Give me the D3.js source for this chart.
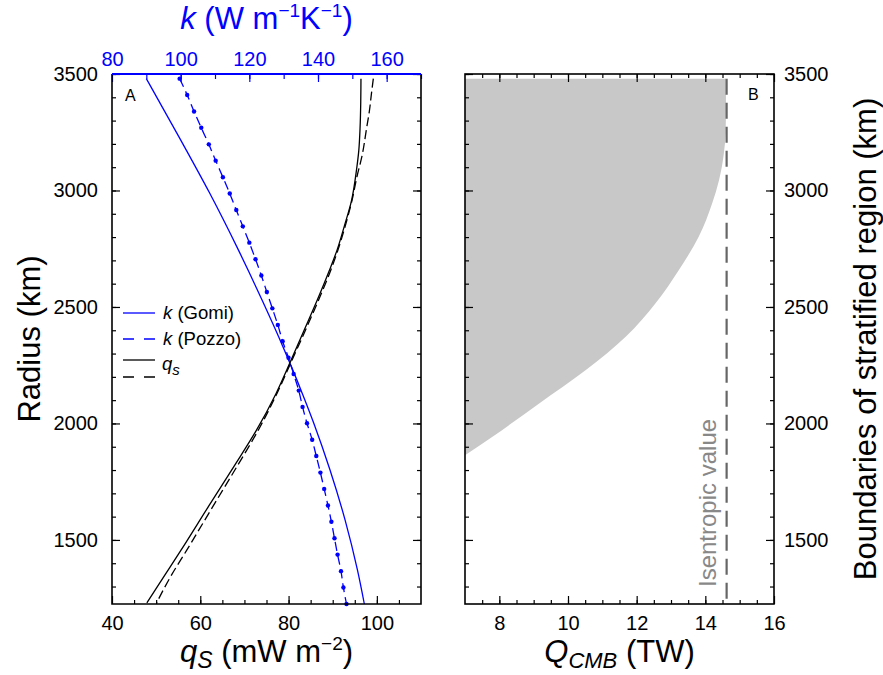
<!DOCTYPE html>
<html>
<head>
<meta charset="utf-8">
<script src="https://cdn.jsdelivr.net/npm/d3@7"></script>
<style>
  body { margin: 0; background: #fff; }
  svg { font-family: "Liberation Sans", Arial, Helvetica, sans-serif; }
</style>
</head>
<body>
<div id="container"></div>
<script>
// k (Gomi) : conductivité, W m-1 K-1
const gomiRadius = [3480, 3225, 2990, 2745, 2530, 2370, 2260, 2115, 2000, 1800, 1585, 1370, 1225];
const gomiK = [90.0, 99.7, 108.4, 116.8, 123.7, 128.6, 131.8, 135.8, 138.8, 143.5, 147.9, 151.5, 153.5];

// k (Pozzo) : une valeur par point marqué
const pozzoRadius = [3480, 3410, 3339, 3269, 3198, 3128, 3057, 2987, 2916, 2846, 2776, 2705, 2635,
  2564, 2494, 2423, 2353, 2282, 2212, 2141, 2071, 2001, 1930, 1860, 1789, 1719, 1648, 1578,
  1507, 1437, 1366, 1296, 1225];
const pozzoK = [99.7, 101.9, 103.9, 106.0, 108.2, 110.2, 112.3, 114.3, 116.2, 118.1, 120.0, 121.8, 123.5,
  125.1, 126.7, 128.3, 129.7, 131.4, 132.9, 134.4, 135.5, 136.8, 138.3, 139.5, 140.7, 141.8, 142.9, 143.9,
  144.8, 145.7, 146.7, 147.4, 148.3];

// q_s, mW m-2 (trait plein et tirets)
const qsRadius = [3480, 3380, 3270, 3170, 3090, 2960, 2845, 2745, 2660, 2530, 2395, 2260, 2130, 1970, 1815, 1645, 1455, 1350, 1230];
const qsSolid = [96.4, 96.35, 96.2, 95.9, 95.4, 94.3, 92.6, 91.0, 89.3, 86.5, 83.4, 80.3, 77.2, 72.7, 67.6, 61.9, 55.6, 52.0, 47.9];
const qsDashRadius = [3480, 3420, 3340, 3270, 3145, 3060, 2960, 2845, 2745, 2660, 2530, 2395, 2260, 2130, 1970, 1815, 1645, 1455, 1350, 1230];
const qsDashed = [99.2, 98.8, 98.3, 97.7, 96.6, 95.5, 94.4, 92.8, 91.2, 89.6, 86.8, 83.7, 80.5, 77.4, 73.1, 68.3, 62.9, 56.9, 53.5, 50.1];

// Panneau B : limite de la région stratifiée
const boundaryRadius = [1864, 1943, 2086, 2229, 2372, 2516, 2659, 2802, 2945, 3045, 3160, 3247, 3350, 3480];
const boundaryQ = [7.0, 7.8, 9.16, 10.52, 11.68, 12.55, 13.23, 13.81, 14.20, 14.40, 14.54, 14.59, 14.6, 14.6];
const isentropicQ = 14.62;
const cmbRadius = 3480;

const radiusTicks = [1500, 2000, 2500, 3000, 3500];
const qsTicks = [40, 60, 80, 100];
const kTicks = [80, 100, 120, 140, 160];
const qcmbTicks = [8, 10, 12, 14, 16];

const width = 883;
const height = 675;
const yTop = 74, yBottom = 604;
const aLeft = 112, aRight = 421;
const bLeft = 465, bRight = 774;
const blue = "#0000ff";

const svg = d3.select("#container").append("svg")
  .attr("width", width)
  .attr("height", height);

const y = d3.scaleLinear().domain([1225, 3500]).range([yBottom, yTop]);
const xq = d3.scaleLinear().domain([40, 110]).range([aLeft, aRight]);
const xk = d3.scaleLinear().domain([80, 170]).range([aLeft, aRight]);
const xQ = d3.scaleLinear().domain([7, 16]).range([bLeft, bRight]);

const minorR = d3.range(1300, 3501, 100);

function styleAxis(g, color) {
  g.select(".domain").remove();
  g.attr("font-size", 20).attr("font-family", null);
  g.selectAll(".tick line").attr("stroke", color).attr("stroke-width", 1.2);
  g.selectAll(".tick text").attr("fill", color);
}

function addAxis(axis, tx, ty, color) {
  const g = svg.append("g").attr("transform", `translate(${tx},${ty})`).call(axis);
  styleAxis(g, color || "#000");
  return g;
}

// ---- Panneau B : zone grisée
const area = d3.area()
  .x0(() => xQ(7))
  .x1((d, i) => xQ(boundaryQ[i]))
  .y((d) => y(d))
  .curve(d3.curveMonotoneY);

svg.append("path")
  .datum(boundaryRadius)
  .attr("d", area)
  .attr("fill", "#c8c8c8");

svg.append("line")
  .attr("x1", xQ(isentropicQ)).attr("x2", xQ(isentropicQ))
  .attr("y1", y(cmbRadius)).attr("y2", y(1225))
  .attr("stroke", "#666")
  .attr("stroke-width", 2.2)
  .attr("stroke-dasharray", "16,8");

svg.append("text")
  .attr("transform", `translate(716,587) rotate(-90)`)
  .attr("font-size", 24)
  .attr("fill", "#888")
  .text("Isentropic value");

// ---- Panneau A : courbes
const lineK = d3.line().x((d) => xk(d[1])).y((d) => y(d[0])).curve(d3.curveMonotoneY);
const lineQ = d3.line().x((d) => xq(d[1])).y((d) => y(d[0])).curve(d3.curveMonotoneY);

svg.append("path")
  .datum(d3.zip(gomiRadius, gomiK))
  .attr("d", lineK)
  .attr("fill", "none").attr("stroke", blue).attr("stroke-width", 1.3);

svg.append("path")
  .datum(d3.zip(pozzoRadius, pozzoK))
  .attr("d", lineK)
  .attr("fill", "none").attr("stroke", blue).attr("stroke-width", 1.3)
  .attr("stroke-dasharray", "9,5");

svg.append("g").selectAll("circle")
  .data(d3.zip(pozzoRadius, pozzoK))
  .join("circle")
  .attr("cx", (d) => xk(d[1]))
  .attr("cy", (d) => y(d[0]))
  .attr("r", 2.2)
  .attr("fill", blue);

svg.append("path")
  .datum(d3.zip(qsRadius, qsSolid))
  .attr("d", lineQ)
  .attr("fill", "none").attr("stroke", "#000").attr("stroke-width", 1.3);

svg.append("path")
  .datum(d3.zip(qsDashRadius, qsDashed))
  .attr("d", lineQ)
  .attr("fill", "none").attr("stroke", "#000").attr("stroke-width", 1.3)
  .attr("stroke-dasharray", "9,4");

// ---- Axes panneau A
addAxis(d3.axisLeft(y).tickValues(radiusTicks).tickSize(-8).tickPadding(14).tickFormat(d3.format("d")), aLeft, 0);
addAxis(d3.axisLeft(y).tickValues(minorR).tickSize(-4).tickFormat(""), aLeft, 0);
addAxis(d3.axisRight(y).tickValues(radiusTicks).tickSize(-8).tickFormat(""), aRight, 0);
addAxis(d3.axisRight(y).tickValues(minorR).tickSize(-4).tickFormat(""), aRight, 0);
addAxis(d3.axisBottom(xq).tickValues(qsTicks).tickSize(-8).tickPadding(12), 0, yBottom);
addAxis(d3.axisBottom(xq).tickValues(d3.range(45, 110, 5)).tickSize(-4).tickFormat(""), 0, yBottom);
addAxis(d3.axisTop(xk).tickValues(kTicks).tickSize(-8).tickPadding(8), 0, yTop, blue);
addAxis(d3.axisTop(xk).tickValues(d3.range(90, 171, 10)).tickSize(-5).tickFormat(""), 0, yTop, blue);

// ---- Axes panneau B
addAxis(d3.axisLeft(y).tickValues(radiusTicks).tickSize(-8).tickFormat(""), bLeft, 0);
addAxis(d3.axisLeft(y).tickValues(minorR).tickSize(-4).tickFormat(""), bLeft, 0);
addAxis(d3.axisRight(y).tickValues(radiusTicks).tickSize(-8).tickPadding(10).tickFormat(d3.format("d")), bRight, 0);
addAxis(d3.axisRight(y).tickValues(minorR).tickSize(-4).tickFormat(""), bRight, 0);
addAxis(d3.axisBottom(xQ).tickValues(qcmbTicks).tickSize(-8).tickPadding(12), 0, yBottom);
addAxis(d3.axisBottom(xQ).tickValues(d3.range(7.5, 16, 0.5)).tickSize(-4).tickFormat(""), 0, yBottom);
addAxis(d3.axisTop(xQ).tickValues(qcmbTicks).tickSize(-8).tickFormat(""), 0, yTop);
addAxis(d3.axisTop(xQ).tickValues(d3.range(7.5, 16, 0.5)).tickSize(-4).tickFormat(""), 0, yTop);

// cadres
svg.append("path")
  .attr("d", `M${aRight},${yTop}V${yBottom}H${aLeft}V${yTop}`)
  .attr("fill", "none").attr("stroke", "#000").attr("stroke-width", 1.6);
svg.append("line")
  .attr("x1", aLeft).attr("x2", aRight).attr("y1", yTop).attr("y2", yTop)
  .attr("stroke", blue).attr("stroke-width", 2);
svg.append("rect")
  .attr("x", bLeft).attr("y", yTop)
  .attr("width", bRight - bLeft).attr("height", yBottom - yTop)
  .attr("fill", "none").attr("stroke", "#000").attr("stroke-width", 1.6);

// lettres des panneaux
svg.append("text").attr("x", 125).attr("y", 101).attr("font-size", 16).text("A");
svg.append("text").attr("x", 748).attr("y", 100).attr("font-size", 16).text("B");

// ---- Légende
const legend = svg.append("g").attr("font-size", 18.5);
const legendRows = [
  { y: 313, color: blue, dash: null },
  { y: 339, color: blue, dash: "11,10" },
  { y: 360, color: "#000", dash: null },
  { y: 377, color: "#000", dash: "11,10" },
];
legendRows.forEach((r) => {
  legend.append("line")
    .attr("x1", 123).attr("x2", 155).attr("y1", r.y).attr("y2", r.y)
    .attr("stroke", r.color).attr("stroke-width", 1.3)
    .attr("stroke-dasharray", r.dash);
});
const t1 = legend.append("text").attr("x", 163).attr("y", 319);
t1.append("tspan").attr("font-style", "italic").text("k");
t1.append("tspan").text(" (Gomi)");
const t2 = legend.append("text").attr("x", 163).attr("y", 345);
t2.append("tspan").attr("font-style", "italic").text("k");
t2.append("tspan").text(" (Pozzo)");
const t3 = legend.append("text").attr("x", 162).attr("y", 370);
t3.append("tspan").attr("font-style", "italic").text("q");
t3.append("tspan").attr("font-style", "italic").attr("font-size", 15).attr("dy", 5).text("s");

// ---- Titres des axes
const kTitle = svg.append("text")
  .attr("x", (aLeft + aRight) / 2).attr("y", 29)
  .attr("text-anchor", "middle").attr("font-size", 31).attr("fill", blue);
kTitle.append("tspan").attr("font-style", "italic").text("k");
kTitle.append("tspan").text(" (W m");
kTitle.append("tspan").attr("font-size", 19).attr("dy", -12).text("−1");
kTitle.append("tspan").attr("dy", 12).text("K");
kTitle.append("tspan").attr("font-size", 19).attr("dy", -12).text("−1");
kTitle.append("tspan").attr("dy", 12).text(")");

const qTitle = svg.append("text")
  .attr("x", (aLeft + aRight) / 2).attr("y", 662)
  .attr("text-anchor", "middle").attr("font-size", 31);
qTitle.append("tspan").attr("font-style", "italic").text("q");
qTitle.append("tspan").attr("font-style", "italic").attr("font-size", 23).attr("dy", 6).text("S");
qTitle.append("tspan").attr("dy", -6).text(" (mW m");
qTitle.append("tspan").attr("font-size", 19).attr("dy", -12).text("−2");
qTitle.append("tspan").attr("dy", 12).text(")");

const QTitle = svg.append("text")
  .attr("x", (bLeft + bRight) / 2).attr("y", 662)
  .attr("text-anchor", "middle").attr("font-size", 31);
QTitle.append("tspan").attr("font-style", "italic").text("Q");
QTitle.append("tspan").attr("font-style", "italic").attr("font-size", 22).attr("dy", 6).text("CMB");
QTitle.append("tspan").attr("dy", -6).text(" (TW)");

svg.append("text")
  .attr("transform", `translate(40,${(yTop + yBottom) / 2}) rotate(-90)`)
  .attr("text-anchor", "middle").attr("font-size", 31)
  .text("Radius (km)");

svg.append("text")
  .attr("transform", `translate(876,${(yTop + yBottom) / 2}) rotate(-90)`)
  .attr("text-anchor", "middle").attr("font-size", 31)
  .text("Boundaries of stratified region (km)");
</script>
</body>
</html>
